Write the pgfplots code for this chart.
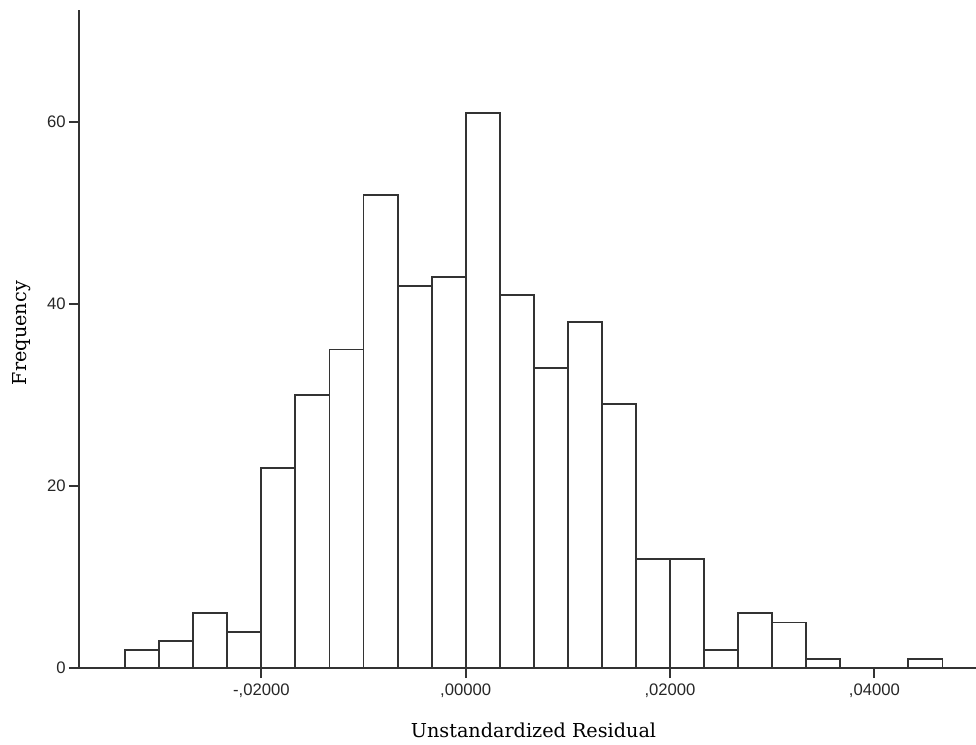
\documentclass[border=0pt]{standalone}
\usepackage{fontspec}
\usepackage{pgfplots}
\pgfplotsset{compat=1.18}
\newfontfamily\ticksans{Liberation Sans}
\newfontfamily\titleserif{DejaVu Serif}
\begin{document}
\begin{tikzpicture}
\begin{axis}[
  at={(59.25pt,57pt)}, anchor=south west,
  scale only axis,
  width=672.75pt, height=493.5pt,
  xmin=-0.03785, xmax=0.04995,
  ymin=0, ymax=72.3,
  axis x line=bottom, axis y line=left,
  axis line style={-, line width=1.4pt, black!80},
  tick align=outside,
  major tick length=7.5pt,
  tick style={line width=1.4pt, black!80},
  scaled x ticks=false,
  xtick={-0.02,0,0.02,0.04},
  xticklabels={{-,02000},{,00000},{,02000},{,04000}},
  ytick={0,20,40,60},
  /pgf/number format/assume math mode=true,
  tick label style={font=\ticksans\fontsize{12.5}{14}\selectfont, text=black!85},
  xticklabel style={yshift=-1pt},
  yticklabel style={xshift=1pt},
  xlabel={Unstandardized Residual},
  ylabel={Frequency},
  xlabel style={at={(axis description cs:0.5067,-0.0942)}, anchor=center, font=\titleserif\fontsize{14.4}{16}\selectfont},
  ylabel style={at={(axis description cs:-0.0635,0.509)}, anchor=center, font=\titleserif\fontsize{14.4}{16}\selectfont},
  clip=false,
]
\addplot[ybar interval, fill=white, draw=black!80, line width=1.4pt] table[x=x, y=y] {
x y
-0.0333333 2
-0.0300000 3
-0.0266667 6
-0.0233333 4
-0.0200000 22
-0.0166667 30
-0.0133333 35
-0.0100000 52
-0.0066667 42
-0.0033333 43
0.0000000 61
0.0033333 41
0.0066667 33
0.0100000 38
0.0133333 29
0.0166667 12
0.0200000 12
0.0233333 2
0.0266667 6
0.0300000 5
0.0333333 1
0.0366667 0
0.0400000 0
0.0433333 1
0.0466667 1
};
\end{axis}
\pgfresetboundingbox
\path[use as bounding box] (0,0) rectangle (732pt,558pt);
\end{tikzpicture}
\end{document}
